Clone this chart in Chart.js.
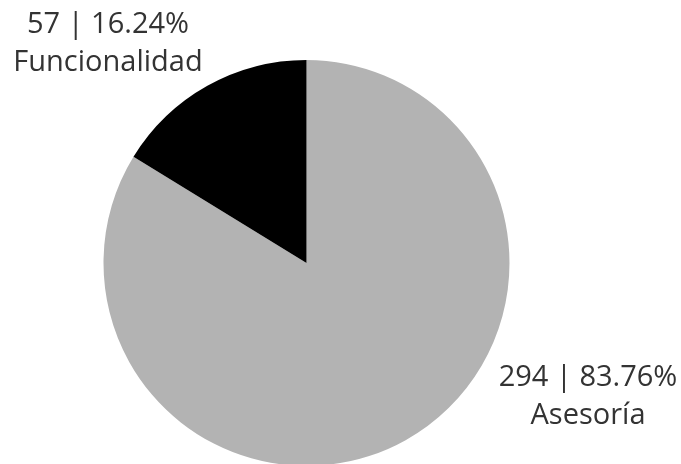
<!DOCTYPE html>
<html>
<head>
<meta charset="utf-8">
<script src="https://cdn.jsdelivr.net/npm/chart.js@4"></script>
<style>
html,body{margin:0;padding:0;background:#fff;overflow:hidden;}
#wrap{width:681px;height:470px;}
</style>
</head>
<body>
<div id="wrap"><canvas id="c" width="681" height="470"></canvas></div>
<script>
const categories = ["Asesoría", "Funcionalidad"];
const values = [294, 57];
const colors = ["#b3b3b3", "#000000"];
// label anchor positions (center x, first baseline y) for each category
const labelPos = [[588, 386], [108, 33]];

const total = values.reduce((a, b) => a + b, 0);

const labelPlugin = {
  id: "sliceLabels",
  afterDraw(chart) {
    const ctx = chart.ctx;
    ctx.save();
    ctx.fillStyle = "#333333";
    ctx.font = "29px 'Open Sans'";
    ctx.textAlign = "center";
    ctx.textBaseline = "alphabetic";
    values.forEach((v, i) => {
      const pct = (v / total * 100).toFixed(2);
      const [x, y] = labelPos[i];
      ctx.fillText(v + " | " + pct + "%", x, y);
      ctx.fillText(categories[i], x, y + 38);
    });
    ctx.restore();
  }
};

new Chart(document.getElementById("c"), {
  type: "pie",
  data: {
    labels: categories,
    datasets: [{ data: values, backgroundColor: colors, borderWidth: 0 }]
  },
  options: {
    responsive: false,
    animation: false,
    layout: { padding: { left: 0, right: 68, top: 60, bottom: 4 } },
    plugins: { legend: { display: false }, tooltip: { enabled: false } }
  },
  plugins: [labelPlugin]
});
</script>
</body>
</html>
